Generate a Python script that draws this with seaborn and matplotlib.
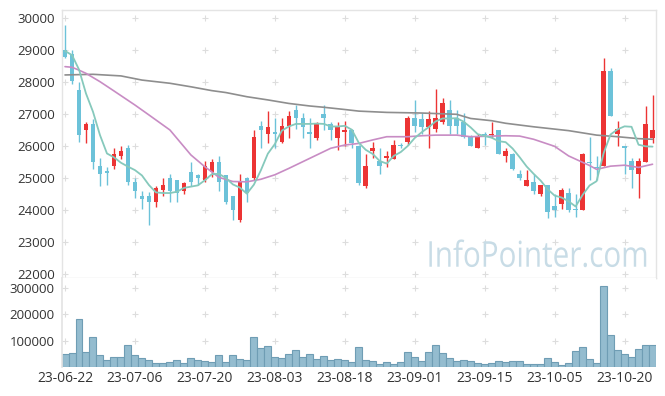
import pandas as pd
import seaborn as sns
import matplotlib.pyplot as plt
from matplotlib.textpath import TextPath
from matplotlib.patches import PathPatch
from matplotlib.font_manager import FontProperties
from matplotlib.transforms import Affine2D

# trading days (KRX holidays skipped)
holidays = ['2023-08-15', '2023-09-28', '2023-09-29', '2023-10-02', '2023-10-03', '2023-10-09']
dates = pd.bdate_range('2023-06-22', '2023-10-26', freq='C', holidays=holidays)

opens = [29000, 28900, 27750, 26500, 26700, 25400, 25200, 25400, 25700, 25950,
         24900, 24450, 24450, 24250, 24650, 25000, 24950, 24600, 25200, 25100,
         24950, 25200, 25500, 25100, 24450, 23700, 25000, 25000, 26650, 26400,
         26450, 26150, 26650, 27150, 26900, 26450, 26250, 27000, 26700, 26250,
         26450, 26500, 26000, 24750, 25850, 25550, 25650, 25600, 26020, 26150,
         26900, 26850, 26600, 26550, 26750, 27150, 26900, 26750, 26300, 25950,
         26400, 26350, 26500, 25700, 25750, 25150, 24750, 24900, 24500, 24800,
         24150, 24200, 24550, 24050, 24000, 25500, 25350, 25400, 28350, 26400,
         26000, 25550, 25150, 25500, 26250]
highs = [29800, 29000, 28000, 26750, 26850, 25650, 25350, 25950, 26000, 26050,
         25000, 24600, 24580, 24750, 25000, 25150, 24950, 24900, 25500, 25150,
         25550, 25600, 25700, 25100, 24450, 25150, 25050, 26500, 26800, 27100,
         26900, 26900, 27100, 27300, 27050, 26900, 26750, 27300, 26750, 26750,
         26800, 26550, 26050, 25750, 26150, 25950, 25850, 26200, 26100, 26950,
         27450, 27050, 27100, 27800, 27500, 27450, 27150, 27050, 26350, 26400,
         26450, 26750, 26500, 25950, 25800, 25250, 25250, 25150, 24800, 24800,
         24500, 24700, 24700, 24500, 25800, 26300, 25700, 28750, 28450, 26800,
         26000, 25650, 25650, 27250, 27600]
lows = [28750, 27950, 26150, 26100, 25300, 24750, 24800, 25300, 25600, 24800,
        24400, 24050, 23550, 24100, 24450, 24250, 24250, 24500, 24750, 24800,
        24900, 25050, 24600, 24200, 23700, 23650, 24250, 24950, 25950, 26100,
        25950, 26100, 26250, 26550, 26250, 25950, 26200, 26500, 26200, 25900,
        26000, 25950, 24800, 24700, 25650, 25150, 25350, 25600, 25950, 26050,
        26450, 26400, 25950, 26450, 26700, 26400, 26400, 26250, 26000, 25950,
        26050, 26250, 25750, 25500, 25250, 24950, 24750, 24500, 24450, 23750,
        23800, 24050, 23950, 23800, 24000, 24950, 24950, 25400, 26950, 26000,
        25150, 24700, 24400, 25500, 26100]
closes = [28800, 28050, 26350, 26700, 25500, 25150, 25180, 25750, 25850, 24900,
          24600, 24350, 24250, 24700, 24800, 24600, 24550, 24850, 24900, 25000,
          25400, 25500, 24900, 24250, 24000, 24900, 24550, 26300, 26500, 26600,
          26400, 26650, 26950, 26900, 26600, 26400, 26700, 26900, 26500, 26600,
          26500, 26100, 24850, 25400, 25950, 25400, 25700, 26050, 26000, 26900,
          26650, 26600, 26850, 26900, 27350, 26650, 26650, 26300, 26000, 26300,
          26350, 26400, 25750, 25850, 25300, 25000, 24950, 24600, 24800, 23950,
          24000, 24650, 24000, 24000, 25750, 25480, 25320, 28350, 26950, 26550,
          25950, 25250, 25550, 26700, 26500]
volumes = [49000, 53000, 182000, 57000, 114000, 46000, 28000, 38000, 38000, 84000,
           46000, 34000, 28000, 15000, 15000, 19000, 28000, 15000, 34000, 28000,
           24000, 19000, 46000, 19000, 46000, 30000, 27000, 114000, 72000, 80000,
           38000, 34000, 49000, 65000, 38000, 49000, 30000, 42000, 27000, 30000,
           27000, 19000, 76000, 27000, 23000, 11000, 19000, 11000, 19000, 57000,
           38000, 23000, 57000, 84000, 53000, 34000, 23000, 27000, 23000, 15000,
           11000, 15000, 23000, 19000, 23000, 23000, 11000, 11000, 11000, 34000,
           19000, 8000, 15000, 61000, 76000, 30000, 15000, 308000, 122000, 65000,
           49000, 38000, 68000, 84000, 84000]

# first MA5 points (need closes before the window)
ma5_head = [28980, 28850, 28400, 27650]
# MA20 and long MA: (day index, value)
ma20_idx = [0, 1, 2, 3, 5, 7, 10, 12, 15, 18, 20, 21, 22, 24, 26, 28, 30, 32, 34, 36,
            38, 40, 42, 44, 46, 49, 51, 53, 56, 58, 61, 63, 65, 67, 70, 72, 75, 76,
            78, 80, 82, 84]
ma20_val = [28490, 28470, 28380, 28280, 28020, 27730, 27290, 26980, 26510, 25730,
            25360, 25200, 25030, 24900, 24890, 24970, 25110, 25310, 25520, 25730,
            25940, 26040, 26090, 26200, 26300, 26300, 26330, 26350, 26350, 26300,
            26320, 26330, 26320, 26220, 26000, 25700, 25400, 25280, 25380, 25410,
            25340, 25440]
malong_idx = [0, 4, 8, 11, 15, 18, 21, 23, 26, 29, 32, 35, 37, 40, 42, 46, 51, 56,
              58, 61, 63, 67, 72, 76, 79, 82, 84]
malong_val = [28230, 28250, 28200, 28070, 27970, 27860, 27740, 27680, 27550, 27450,
              27340, 27260, 27220, 27150, 27100, 27060, 27040, 27000, 26870, 26800,
              26720, 26610, 26490, 26350, 26300, 26240, 26220]

df = pd.DataFrame({'open': opens, 'high': highs, 'low': lows, 'close': closes,
                   'volume': volumes})
df['idx'] = range(len(df))
df['ma5'] = df['close'].rolling(5).mean()
df.loc[:3, 'ma5'] = ma5_head
up = df['close'] >= df['open']

RED = '#ec3434'
BLUE = '#6cc2d9'
EDGE = '#e4e4e4'
TXT = '#333333'

sns.set_theme(style='white')
plt.rcParams['font.family'] = ['Open Sans', 'DejaVu Sans']

fig = plt.figure(figsize=(6.65, 3.96), dpi=100)
ax = fig.add_axes([0.0925, 0.2987, 0.894, 0.676])
axv = fig.add_axes([0.0925, 0.0725, 0.894, 0.2262])

# light "+" grid marks
xt = list(range(0, 85, 10))
for y in range(22000, 30001, 1000):
    ax.plot(xt, [y] * len(xt), ls='none', marker='+', ms=5, mew=0.8,
            color='#dddddd', zorder=0)
for y in [100000, 200000, 300000]:
    axv.plot(xt, [y] * len(xt), ls='none', marker='+', ms=5, mew=0.8,
             color='#dddddd', zorder=0)

# watermark, stretched into the box it takes in the original
tp = TextPath((0, 0), 'InfoPointer.com', size=1, prop=FontProperties(family='Open Sans'))
bb = tp.get_extents()
wx0, wx1 = 52.1, 83.1
wy0, wy1 = 22237, 23090
wtrans = (Affine2D().translate(-bb.x0, 0)
          .scale((wx1 - wx0) / bb.width, (wy1 - wy0) / bb.y1)
          .translate(wx0, wy0) + ax.transData)
ax.add_patch(PathPatch(tp, transform=wtrans, fc='#c8dce6', ec='none', zorder=1))

# candles
cols = [RED if u else BLUE for u in up]
ax.vlines(df['idx'], df['low'], df['high'], colors=cols, lw=1.0, zorder=2)
body_lo = df[['open', 'close']].min(axis=1)
body_h = (df['close'] - df['open']).abs().clip(lower=40)
ax.bar(df['idx'], body_h, bottom=body_lo, width=0.66, color=cols, lw=0, zorder=3)

# moving averages
sns.lineplot(x=malong_idx, y=malong_val, ax=ax, color='#8e8e8e', lw=1.2, zorder=4)
sns.lineplot(x=ma20_idx, y=ma20_val, ax=ax, color='#c88cc4', lw=1.2, zorder=4)
sns.lineplot(data=df, x='idx', y='ma5', ax=ax, color='#86c9bc', lw=1.3, zorder=4)

ax.set_xlim(-0.5, 84.5)
ax.set_ylim(21894, 30259)
ax.set_yticks(range(22000, 30001, 1000))
ax.set_xticks([])
ax.set_xlabel('')
ax.set_ylabel('')
ax.tick_params(axis='y', length=0, pad=5, labelsize=9.5, labelcolor=TXT)
for s in ax.spines.values():
    s.set_color(EDGE)
    s.set_linewidth(1.0)

# volume
sns.barplot(x=df['idx'], y=df['volume'], ax=axv, color='#94bccf', saturation=1,
            width=1.0, edgecolor='#6f9db4', linewidth=0.8, zorder=2)
axv.set_xlim(-0.5, 84.5)
axv.set_ylim(0, 338000)
axv.set_yticks([100000, 200000, 300000])
axv.set_xticks(xt)
axv.set_xticklabels([d.strftime('%y-%m-%d') for d in dates[::10]])
axv.set_xlabel('')
axv.set_ylabel('')
axv.tick_params(axis='both', length=0, labelsize=9.5, labelcolor=TXT)
axv.tick_params(axis='x', labelsize=10, pad=3)
axv.tick_params(axis='y', pad=5)
for k, s in axv.spines.items():
    s.set_visible(k == 'left')
    s.set_color(EDGE)

fig.savefig('out.png', dpi=100)
